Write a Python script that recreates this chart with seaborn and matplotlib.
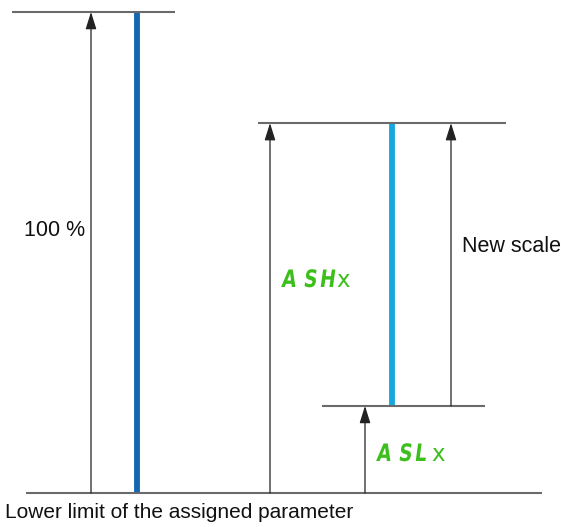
import numpy as np
import pandas as pd
import matplotlib
matplotlib.use("Agg")
import matplotlib.pyplot as plt
import seaborn as sns
from matplotlib.textpath import TextPath
from matplotlib.patches import PathPatch
from matplotlib.font_manager import FontProperties
from matplotlib.transforms import Affine2D

# scale values (percent of the assigned parameter range)
full_range = [0, 100]
new_scale = [18.1, 76.9]
labels_high = ["A", "S", "H"]
labels_low = ["A", "S", "L"]
scale_label = "100 %"
new_label = "New scale"
base_label = "Lower limit of the assigned parameter"

sns.set_theme(style="white")
plt.rcParams["font.family"] = ["Liberation Sans", "DejaVu Sans"]

fig = plt.figure(figsize=(5.67, 5.27), dpi=100)
ax = fig.add_axes([0, 0, 1, 1])
ax.set_xlim(0, 567)
ax.set_ylim(-34 / 4.81, 100 + 12 / 4.81)
ax.axis("off")

green = "#3dbf1b"
gray = "#6a6a6a"

# the two scale bars drawn with seaborn
bars = pd.DataFrame({
    "x": [137, 137, 392, 392],
    "y": [full_range[0], full_range[1], new_scale[0], new_scale[1]],
    "bar": ["full", "full", "new", "new"],
})
sns.lineplot(data=bars, x="x", y="y", hue="bar", palette={"full": "#1366b0", "new": "#17a8e0"},
             linewidth=4.2, legend=False, ax=ax, estimator=None, sort=False,
             solid_capstyle="butt")

# horizontal reference lines
ax.plot([26, 542], [full_range[0]] * 2, color=gray, lw=1.5, solid_capstyle="butt")
ax.plot([12, 175], [full_range[1]] * 2, color=gray, lw=1.5, solid_capstyle="butt")
ax.plot([258, 506], [new_scale[1]] * 2, color=gray, lw=1.5, solid_capstyle="butt")
ax.plot([322, 485], [new_scale[0]] * 2, color=gray, lw=1.5, solid_capstyle="butt")


def arrow(x, y0, y1):
    ax.annotate("", xy=(x, y1), xytext=(x, y0),
                arrowprops=dict(arrowstyle="-|>,head_length=0.7,head_width=0.22",
                                color="#222222", lw=0.9,
                                mutation_scale=15, shrinkA=0, shrinkB=0))


arrow(91, full_range[0], full_range[1])
arrow(270, full_range[0], new_scale[1])
arrow(451, new_scale[0], new_scale[1])
arrow(365, full_range[0], new_scale[0])

ax.text(24, (493 - 230) / 4.81, scale_label, fontsize=15.5, color="#111111",
        ha="left", va="center")
ax.text(462, (493 - 247) / 4.81, new_label, fontsize=15.5, color="#111111",
        ha="left", va="center")
ax.text(5, -20 / 4.81, base_label, fontsize=15, color="#111111",
        ha="left", va="center")

seg_font = FontProperties(family="DejaVu Sans", weight="bold")


def code(x0, y_px, letters):
    # display-style parameter code: narrow slanted letters then a small "x"
    offsets = [0, 22, 38]
    for dx, ch in zip(offsets, letters):
        tp = TextPath((0, 0), ch, size=24, prop=seg_font)
        tr = (Affine2D().skew_deg(10, 0).scale(0.78, 1 / 4.81)
              .translate(x0 + dx, (493 - y_px) / 4.81))
        ax.add_patch(PathPatch(tr.transform_path(tp), color=green, lw=0))
    ax.text(x0 + 55, (493 - y_px) / 4.81, "x", fontsize=16.5, color=green,
            ha="left", va="baseline", family="DejaVu Sans")


code(281, 287, labels_high)
code(376, 461, labels_low)

fig.savefig("out.png", dpi=100)
